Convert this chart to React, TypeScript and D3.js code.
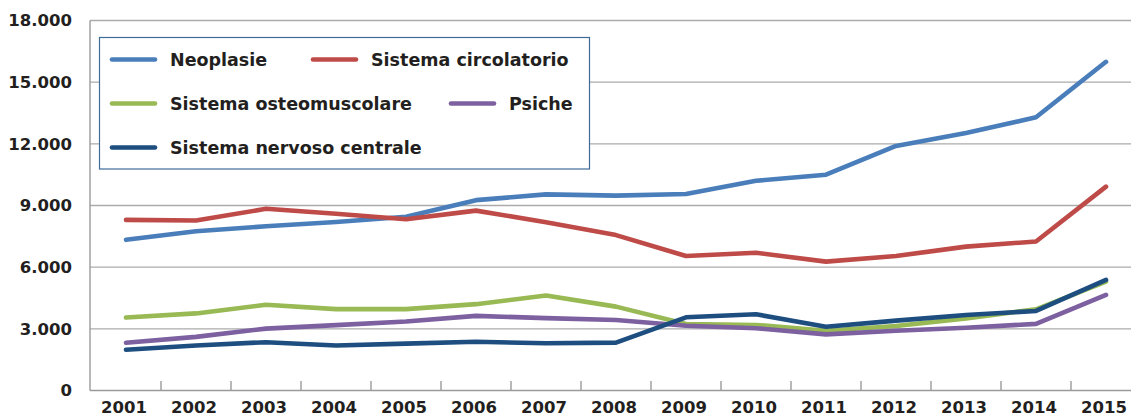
import React, { useRef, useEffect } from 'react';
import * as d3 from 'd3';

const years = ['2001', '2002', '2003', '2004', '2005', '2006', '2007', '2008', '2009', '2010', '2011', '2012', '2013', '2014', '2015'];
const yTicks = [0, 3000, 6000, 9000, 12000, 15000, 18000];

const neoplasie = [7330, 7750, 7990, 8200, 8450, 9260, 9540, 9480, 9560, 10200, 10500, 11900, 12530, 13290, 15990];
const circolatorio = [8300, 8270, 8840, 8600, 8330, 8750, 8190, 7560, 6540, 6700, 6270, 6540, 7000, 7250, 9920];
const osteomuscolare = [3550, 3750, 4170, 3960, 3960, 4200, 4620, 4080, 3230, 3190, 2910, 3140, 3510, 3950, 5300];
const psiche = [2320, 2610, 3010, 3180, 3360, 3630, 3520, 3430, 3150, 3030, 2730, 2910, 3050, 3240, 4650];
const nervoso = [1980, 2190, 2350, 2190, 2280, 2370, 2300, 2330, 3560, 3710, 3100, 3400, 3670, 3870, 5380];

const seriesNames = ['Neoplasie', 'Sistema circolatorio', 'Sistema osteomuscolare', 'Psiche', 'Sistema nervoso centrale'];
const seriesValues = [neoplasie, circolatorio, osteomuscolare, psiche, nervoso];
const seriesColors = ['#4a7ebb', '#be4b48', '#98b954', '#7d60a0', '#1d4e7f'];

const W = 1131;
const H = 418;
const FONT = '"DejaVu Sans", sans-serif';
const TEXT = '#231f20';

const App = () => {
  const svgRef = useRef<SVGSVGElement>(null);

  useEffect(() => {
    const svg = d3.select(svgRef.current);
    svg.selectAll('*').remove();

    const x = d3.scaleBand().domain(years).range([91, 1141]).padding(0);
    const y = d3.scaleLinear().domain([0, 18000]).range([390.5, 20.5]);
    const it = d3.formatLocale({ decimal: ',', thousands: '.', grouping: [3], currency: ['', '€'] });
    const fmt = it.format(',');

    // gridlines
    svg.append('g')
      .selectAll('line')
      .data(yTicks.filter(d => d > 0))
      .enter()
      .append('line')
      .attr('x1', 90)
      .attr('x2', W)
      .attr('y1', d => y(d))
      .attr('y2', d => y(d))
      .attr('stroke', '#ababab')
      .attr('stroke-width', 1.4);

    // y axis labels
    const yAxis = d3.axisLeft(y).tickValues(yTicks).tickSize(0).tickPadding(0).tickFormat(d => fmt(d as number));
    const gy = svg.append('g')
      .attr('transform', 'translate(72,0)')
      .call(yAxis);
    gy.select('.domain').remove();
    gy.selectAll('text')
      .attr('font-family', FONT)
      .attr('font-weight', 'bold')
      .attr('font-size', '16.5px')
      .attr('fill', TEXT);

    // axis lines
    svg.append('line')
      .attr('x1', 90).attr('x2', 90)
      .attr('y1', y(18000)).attr('y2', y(0))
      .attr('stroke', '#9a9a9a').attr('stroke-width', 1.4);
    svg.append('line')
      .attr('x1', 90).attr('x2', W)
      .attr('y1', y(0)).attr('y2', y(0))
      .attr('stroke', '#9a9a9a').attr('stroke-width', 1.4);

    // x ticks between categories
    svg.append('g')
      .selectAll('line')
      .data(years.slice(1))
      .enter()
      .append('line')
      .attr('x1', d => x(d)!)
      .attr('x2', d => x(d)!)
      .attr('y1', y(0))
      .attr('y2', y(0) - 9.5)
      .attr('stroke', '#9a9a9a')
      .attr('stroke-width', 1.4);

    // x labels
    svg.append('g')
      .selectAll('text')
      .data(years)
      .enter()
      .append('text')
      .attr('x', d => x(d)! + x.bandwidth() / 2 - 2)
      .attr('y', 413)
      .attr('text-anchor', 'middle')
      .attr('font-family', FONT)
      .attr('font-weight', 'bold')
      .attr('font-size', '16.5px')
      .attr('fill', TEXT)
      .text(d => d);

    // lines
    const line = d3.line<number>()
      .x((_, i) => x(years[i])! + x.bandwidth() / 2)
      .y(d => y(d));

    svg.append('g')
      .selectAll('path')
      .data(seriesValues)
      .enter()
      .append('path')
      .attr('d', d => line(d))
      .attr('fill', 'none')
      .attr('stroke', (_, i) => seriesColors[i])
      .attr('stroke-width', 4.6)
      .attr('stroke-linecap', 'round')
      .attr('stroke-linejoin', 'round');

    // legend
    const legendPos = [
      { x: 112, y: 59.5 },
      { x: 313, y: 59.5 },
      { x: 112, y: 103.5 },
      { x: 451, y: 103.5 },
      { x: 112, y: 147.5 },
    ];
    const lg = svg.append('g');
    lg.append('rect')
      .attr('x', 99.5)
      .attr('y', 37.5)
      .attr('width', 490)
      .attr('height', 131.5)
      .attr('fill', 'white')
      .attr('stroke', '#3f6b99')
      .attr('stroke-width', 1.2);

    const items = lg.selectAll('g.item')
      .data(seriesNames)
      .enter()
      .append('g')
      .attr('class', 'item')
      .attr('transform', (_, i) => `translate(${legendPos[i].x},${legendPos[i].y})`);
    items.append('line')
      .attr('x1', 0)
      .attr('x2', 43)
      .attr('stroke', (_, i) => seriesColors[i])
      .attr('stroke-width', 4.6)
      .attr('stroke-linecap', 'round');
    items.append('text')
      .attr('x', 58)
      .attr('dy', '0.36em')
      .attr('font-family', FONT)
      .attr('font-weight', 'bold')
      .attr('font-size', '17.5px')
      .attr('fill', TEXT)
      .text(d => d);
  }, []);

  return (
    <svg
      ref={svgRef}
      width={W}
      height={H}
      style={{ position: 'absolute', left: 0, top: 0, background: 'white' }}
    />
  );
};

export default App;
